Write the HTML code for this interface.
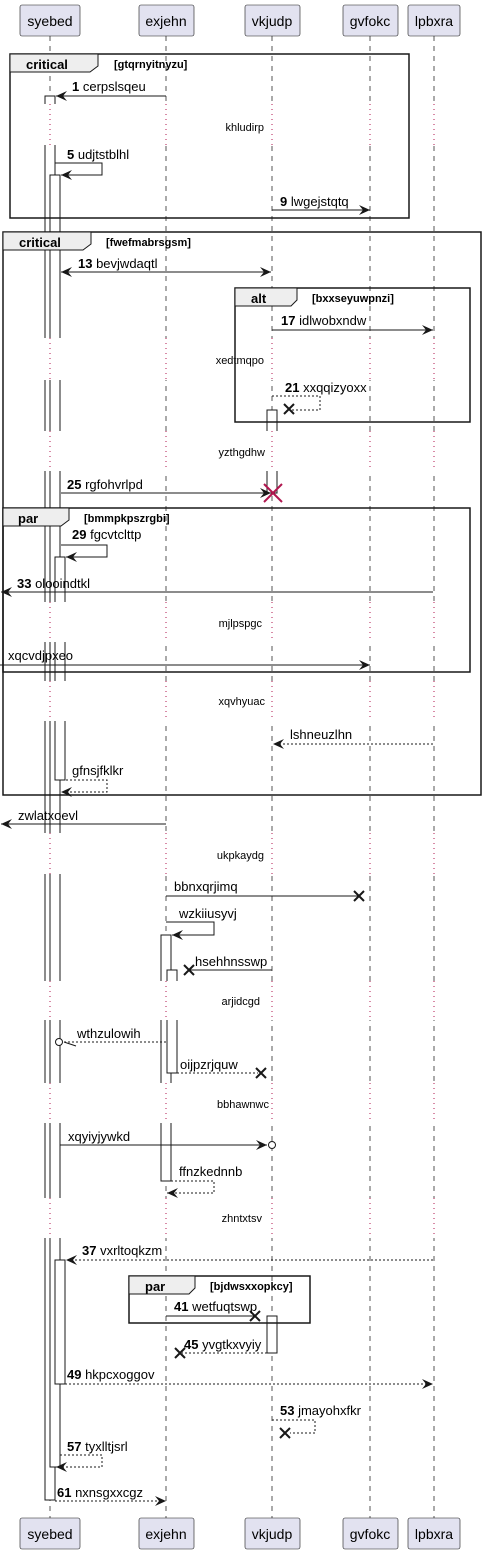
<!DOCTYPE html>
<html><head><meta charset="utf-8"><style>
html,body{margin:0;padding:0;background:#fff}
svg{display:block}
text{font-family:"Liberation Sans",sans-serif;fill:#000}
.m{font-size:13px}
.b{font-weight:bold}
.d{font-size:11px}
.fl{font-size:13px;font-weight:bold}
.fc{font-size:11px;font-weight:bold}
</style></head><body>
<svg width="485" height="1554" viewBox="0 0 485 1554" xmlns="http://www.w3.org/2000/svg">
<defs>
<marker id="ar" markerWidth="12" markerHeight="10" refX="11" refY="5" orient="auto" markerUnits="userSpaceOnUse"><path d="M0,0 L11,5 L0,10 L4,5 Z" fill="#181818"/></marker>
<marker id="al" markerWidth="12" markerHeight="10" refX="1" refY="5" orient="auto" markerUnits="userSpaceOnUse"><path d="M12,0 L1,5 L12,10 L8,5 Z" fill="#181818"/></marker>
</defs>
<!-- lifelines -->
<g stroke="#555" stroke-width="1" stroke-dasharray="5,5">
<line x1="50" y1="36" x2="50" y2="1518"/>
<line x1="166" y1="36" x2="166" y2="1518"/>
<line x1="272" y1="36" x2="272" y2="1518"/>
<line x1="370" y1="36" x2="370" y2="1518"/>
<line x1="434" y1="36" x2="434" y2="1518"/>
</g>
<!-- activations -->
<g fill="#fff" stroke="#181818" stroke-width="1">
<rect x="45" y="96" width="10" height="1404"/>
<rect x="50" y="175" width="10" height="1292"/>
<rect x="55" y="557" width="10" height="223"/>
<rect x="55" y="1260" width="10" height="124"/>
<rect x="161" y="935" width="10" height="246"/>
<rect x="167" y="970" width="10" height="103"/>
<rect x="267" y="410" width="10" height="83"/>
<rect x="267" y="1316" width="10" height="37"/>
</g>
<!-- delays -->
<g fill="#fff">
<rect x="30" y="104" width="420" height="41"/>
<rect x="30" y="338" width="200" height="42"/><rect x="240" y="338" width="220" height="42"/>
<rect x="30" y="431" width="420" height="40"/>
<rect x="30" y="602" width="420" height="40"/>
<rect x="30" y="681" width="420" height="40"/>
<rect x="30" y="833" width="420" height="41"/>
<rect x="30" y="981" width="420" height="39"/>
<rect x="30" y="1083" width="420" height="40"/>
<rect x="30" y="1198" width="420" height="40"/>
</g>
<g stroke="#b0174f" stroke-width="1" stroke-dasharray="1,4">
<path d="M50,104V145M166,104V145M272,104V145M370,104V145M434,104V145"/>
<path d="M50,338V380M166,338V380M272,338V380M370,338V380M434,338V380"/>
<path d="M50,431V471M166,431V471M272,431V471M370,431V471M434,431V471"/>
<path d="M50,602V642M166,602V642M272,602V642M370,602V642M434,602V642"/>
<path d="M50,681V721M166,681V721M272,681V721M370,681V721M434,681V721"/>
<path d="M50,833V874M166,833V874M272,833V874M370,833V874M434,833V874"/>
<path d="M50,981V1020M166,981V1020M272,981V1020M370,981V1020M434,981V1020"/>
<path d="M50,1083V1123M166,1083V1123M272,1083V1123M370,1083V1123M434,1083V1123"/>
<path d="M50,1198V1238M166,1198V1238M272,1198V1238M370,1198V1238M434,1198V1238"/>
</g>
<g class="d" text-anchor="end">
<text x="264" y="131">khludirp</text>
<text x="264" y="364">xedtmqpo</text>
<text x="265" y="456">yzthgdhw</text>
<text x="262" y="627">mjlpspgc</text>
<text x="265" y="705">xqvhyuac</text>
<text x="264" y="859">ukpkaydg</text>
<text x="260" y="1005">arjidcgd</text>
<text x="269" y="1108">bbhawnwc</text>
<text x="262" y="1222">zhntxtsv</text>
</g>
<!-- participants -->
<g fill="#e2e2f0" stroke="#181818" stroke-width="0.6">
<rect x="20" y="5" width="60" height="31" rx="2"/><rect x="139" y="5" width="55" height="31" rx="2"/><rect x="245" y="5" width="55" height="31" rx="2"/><rect x="343" y="5" width="55" height="31" rx="2"/><rect x="408" y="5" width="52" height="31" rx="2"/>
<rect x="20" y="1518" width="60" height="31" rx="2"/><rect x="139" y="1518" width="55" height="31" rx="2"/><rect x="245" y="1518" width="55" height="31" rx="2"/><rect x="343" y="1518" width="55" height="31" rx="2"/><rect x="408" y="1518" width="52" height="31" rx="2"/>
</g>
<g style="font-size:14px" text-anchor="middle">
<text x="50" y="26">syebed</text><text x="166" y="26">exjehn</text><text x="272" y="26">vkjudp</text><text x="370" y="26">gvfokc</text><text x="434" y="26">lpbxra</text>
<text x="50" y="1539">syebed</text><text x="166" y="1539">exjehn</text><text x="272" y="1539">vkjudp</text><text x="370" y="1539">gvfokc</text><text x="434" y="1539">lpbxra</text>
</g>
<!-- frames -->
<g fill="none" stroke="#181818" stroke-width="1.5">
<rect x="10" y="54" width="399" height="164"/>
<rect x="3" y="232" width="478" height="563"/>
<rect x="235" y="288" width="235" height="134"/>
<rect x="3" y="508" width="467" height="164"/>
<rect x="129" y="1276" width="181" height="47"/>
</g>
<g fill="#eee" stroke="#181818" stroke-width="1">
<path d="M10,54H98V66L90,72H10Z"/>
<path d="M3,232H91V244L83,250H3Z"/>
<path d="M235,288H297V300L291,306H235Z"/>
<path d="M3,508H69V520L61,526H3Z"/>
<path d="M129,1276H195V1288L189,1294H129Z"/>
</g>
<text class="fl" x="26" y="69">critical</text><text class="fc" x="114" y="68">[gtqrnyitnyzu]</text>
<text class="fl" x="19" y="247">critical</text><text class="fc" x="106" y="246">[fwefmabrsgsm]</text>
<text class="fl" x="251" y="303">alt</text><text class="fc" x="312" y="302">[bxxseyuwpnzi]</text>
<text class="fl" x="18" y="523">par</text><text class="fc" x="84" y="522">[bmmpkpszrgbi]</text>
<text class="fl" x="145" y="1291">par</text><text class="fc" x="210" y="1290">[bjdwsxxopkcy]</text>
<!-- messages -->
<g stroke="#181818" stroke-width="1" fill="none">
<line x1="166" y1="96" x2="56" y2="96" marker-end="url(#ar)"/>
<polyline points="55,163 102,163 102,175 61,175" marker-end="url(#ar)"/>
<line x1="272" y1="210" x2="370" y2="210" marker-end="url(#ar)"/>
<line x1="61" y1="272" x2="271" y2="272" marker-start="url(#al)" marker-end="url(#ar)"/>
<line x1="272" y1="330" x2="433" y2="330" marker-end="url(#ar)"/>
<polyline points="272,396 320,396 320,410 292,410" stroke-dasharray="2,2"/>
<line x1="61" y1="493" x2="271" y2="493" marker-end="url(#ar)"/>
<polyline points="61,545 107,545 107,557 66,557" marker-end="url(#ar)"/>
<line x1="61" y1="545" x2="61" y2="545" />
<line x1="433" y1="592" x2="1" y2="592" marker-end="url(#ar)"/>
<line x1="0" y1="665" x2="370" y2="665" marker-end="url(#ar)"/>
<line x1="433" y1="744" x2="273" y2="744" stroke-dasharray="2,2" marker-end="url(#ar)"/>
<polyline points="66,780 107,780 107,792 61,792" stroke-dasharray="2,2" marker-end="url(#ar)"/>
<line x1="166" y1="824" x2="1" y2="824" marker-end="url(#ar)"/>
<line x1="166" y1="896" x2="360" y2="896"/>
<polyline points="166,922 214,922 214,935 172,935" marker-end="url(#ar)"/>
<line x1="272" y1="970" x2="188" y2="970"/>
<line x1="166" y1="1042" x2="64" y2="1042" stroke-dasharray="2,2"/>
<line x1="64" y1="1042" x2="76" y2="1046"/>
<line x1="177" y1="1073" x2="258" y2="1073" stroke-dasharray="2,2"/>
<line x1="60" y1="1145" x2="267" y2="1145" marker-end="url(#ar)"/>
<polyline points="171,1181 214,1181 214,1193 167,1193" stroke-dasharray="2,2" marker-end="url(#ar)"/>
<line x1="433" y1="1260" x2="66" y2="1260" stroke-dasharray="2,2" marker-end="url(#ar)"/>
<line x1="166" y1="1316" x2="256" y2="1316"/>
<line x1="267" y1="1353" x2="182" y2="1353" stroke-dasharray="2,2"/>
<line x1="65" y1="1384" x2="433" y2="1384" stroke-dasharray="2,2" marker-end="url(#ar)"/>
<polyline points="272,1420 315,1420 315,1433 290,1433" stroke-dasharray="2,2"/>
<polyline points="60,1455 102,1455 102,1467 56,1467" stroke-dasharray="2,2" marker-end="url(#ar)"/>
<line x1="55" y1="1501" x2="166" y2="1501" stroke-dasharray="2,2" marker-end="url(#ar)"/>
<circle cx="59" cy="1042" r="3.5" fill="#fff"/>
<circle cx="272" cy="1145" r="3.5" fill="#fff"/>
</g>
<!-- X marks -->
<g stroke="#181818" stroke-width="2">
<path d="M284,404l10,10M294,404l-10,10"/>
<path d="M354,891l10,10M364,891l-10,10"/>
<path d="M184,965l10,10M194,965l-10,10"/>
<path d="M256,1068l10,10M266,1068l-10,10"/>
<path d="M250,1311l10,10M260,1311l-10,10"/>
<path d="M175,1348l10,10M185,1348l-10,10"/>
<path d="M280,1428l10,10M290,1428l-10,10"/>
</g>
<path d="M264,484l18,18M282,484l-18,18" stroke="#b0174f" stroke-width="2"/>
<!-- labels -->
<g class="m">
<text x="72" y="91"><tspan class="b">1</tspan> cerpslsqeu</text>
<text x="67" y="159"><tspan class="b">5</tspan> udjtstblhl</text>
<text x="280" y="206"><tspan class="b">9</tspan> lwgejstqtq</text>
<text x="78" y="268"><tspan class="b">13</tspan> bevjwdaqtl</text>
<text x="281" y="325"><tspan class="b">17</tspan> idlwobxndw</text>
<text x="285" y="392"><tspan class="b">21</tspan> xxqqizyoxx</text>
<text x="67" y="489"><tspan class="b">25</tspan> rgfohvrlpd</text>
<text x="72" y="539"><tspan class="b">29</tspan> fgcvtclttp</text>
<text x="17" y="588"><tspan class="b">33</tspan> olooindtkl</text>
<text x="8" y="660">xqcvdjpxeo</text>
<text x="290" y="739">lshneuzlhn</text>
<text x="72" y="775">gfnsjfklkr</text>
<text x="18" y="820">zwlatxoevl</text>
<text x="174" y="891">bbnxqrjimq</text>
<text x="179" y="918">wzkiiusyvj</text>
<text x="195" y="966">hsehhnsswp</text>
<text x="77" y="1038">wthzulowih</text>
<text x="180" y="1069">oijpzrjquw</text>
<text x="68" y="1141">xqyiyjywkd</text>
<text x="179" y="1176">ffnzkednnb</text>
<text x="82" y="1255"><tspan class="b">37</tspan> vxrltoqkzm</text>
<text x="174" y="1311"><tspan class="b">41</tspan> wetfuqtswp</text>
<text x="184" y="1349"><tspan class="b">45</tspan> yvgtkxvyiy</text>
<text x="67" y="1379"><tspan class="b">49</tspan> hkpcxoggov</text>
<text x="280" y="1415"><tspan class="b">53</tspan> jmayohxfkr</text>
<text x="67" y="1451"><tspan class="b">57</tspan> tyxlltjsrl</text>
<text x="57" y="1497"><tspan class="b">61</tspan> nxnsgxxcgz</text>
</g>
</svg>
</body></html>
